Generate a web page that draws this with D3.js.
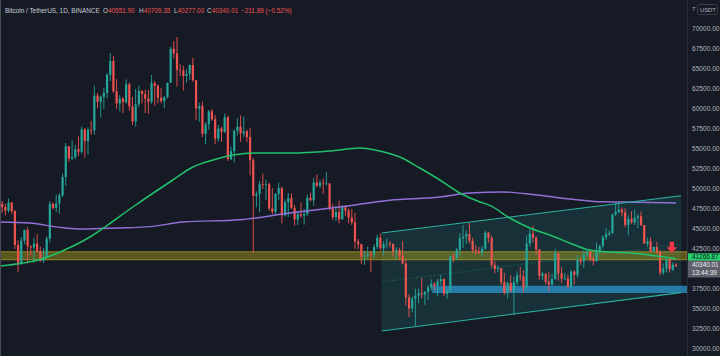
<!DOCTYPE html>
<html><head><meta charset="utf-8">
<script src="https://cdn.jsdelivr.net/npm/d3@7"></script>
<style>html,body{margin:0;padding:0;background:#161a25;overflow:hidden}svg{display:block}</style>
</head><body><svg id="c" width="720" height="356"></svg>
<script>
// Daily candles, BTC/USDT, 15 Sep 2021 -> 16 Apr 2022
const openP = [
47100,48150,47750,47300,48300,47250,43000,40700,43550,44880,42850,42700,43180,42170,41030,41520,
43790,48140,47640,48200,49200,51500,55340,53800,53970,54960,54660,57470,56000,57370,57350,61670,60880,61530,62010,64280,66000,62210,60690,61300,60850,63080,60330,58450,60590,62250,61860,
61300,60910,63220,62900,61400,60990,61500,63270,67530,66970,64880,64810,64150,64400,65500,63600,60060,60350,56900,58100,59700,58700,56300,57570,57150,58960,53730,54720,57270,57800,
56950,57200,56500,53600,49150,49400,50600,50500,50600,47550,47140,49400,50100,46700,48340,48850,47650,46200,46850,46680,46900,48900,48600,50800,50400,50800,50700,50700,47540,46470,47120,
46200,47720,47290,46430,45830,43430,43100,41550,41670,41860,41820,42740,43920,42590,43100,43180,43110,42250,42380,41660,40680,36450,35070,36280,36650,36950,36800,37160,37700,38150,37900,
38480,38740,36900,37330,41570,41380,42400,43840,44040,44370,43510,42380,42200,42050,42530,44550,43870,40520,40000,40100,38350,37000,38240,37250,38330,39210,39100,37700,
43190,44420,43920,42450,39150,39400,38420,38060,38740,41950,39450,38800,38800,37800,39670,39280,41120,40920,41760,42200,41260,41000,42360,42890,43960,44350,44500,46820,47130,47430,47060,
45510,46280,45800,46400,46580,45500,43170,43440,42250,42750,42150,39530,40070,41150,39940,40551.90];
const highP = [
48500,48500,48150,48800,48400,47350,43600,44000,44950,45200,42950,43900,44350,42800,42600,44100,
48500,48350,49300,49500,51900,55750,55300,56100,55500,56550,57800,57600,57700,58500,62900,62000,61700,62650,64480,67000,66650,63730,61750,61500,63700,63300,61500,62500,62950,62350,62400,
62400,64250,63500,63100,62600,61600,63300,67800,68500,69000,65600,65400,64950,65550,66400,63600,60800,60950,58350,59850,60000,59250,58000,57800,59400,59200,55300,57450,58850,59200,
59050,57400,57600,53900,49700,51000,51950,51200,50800,50100,49500,50800,50300,48700,49500,49450,48000,47300,48300,47500,49300,49550,51400,51800,51150,51300,52100,50700,48150,47900,48550,
47950,47990,47550,47500,47050,43750,43150,42300,42800,42250,43100,44300,44450,43450,43800,43500,43200,42700,42650,43500,41100,36850,36550,37550,37550,38900,37250,38000,38700,38350,38750,
39250,38850,37400,41700,41900,42650,44500,45500,44800,45800,43900,43000,42750,42850,44750,44600,44200,40950,40450,40150,39500,38450,39250,39000,39700,40250,39850,44200,
44950,45400,44100,42500,39650,39450,39600,39400,42550,42050,40250,39500,39300,39900,39850,41700,41450,42300,42400,42300,41550,43350,43000,44250,45100,44800,46900,48200,48100,47700,47600,
46700,47200,47450,46900,47200,45500,43900,43950,42800,43400,42400,40700,41550,41500,40850,40709.35];
const lowP = [
46700,47000,46700,47050,46900,42500,39600,40550,43100,40700,41700,40800,42100,40900,40750,41400,
43300,47430,47100,46900,49000,50400,53350,53600,53700,54100,54400,53900,54300,56800,56800,60100,58950,60000,61300,63480,62000,60000,59700,59500,60650,59800,58000,57800,60200,60700,59500,
59400,60650,60400,60700,60700,60100,61300,63250,66300,62800,64100,62300,63300,63600,63400,58600,58400,56500,55600,57400,58500,55600,55900,55900,57000,53500,53600,53300,56700,55900,
56500,55850,51700,42000,47700,47100,50000,48600,47300,46850,46750,48600,45700,46550,46500,47500,45450,45500,46400,45550,46600,48450,47900,50200,50150,49400,50450,47300,46100,46000,45700,
46200,46650,45700,45500,42500,42450,40600,40500,41200,39650,41300,42450,42300,41700,42600,42700,41550,41250,41150,40550,35450,34000,34600,32900,35700,36350,35500,36150,37300,37350,36600,
38000,36600,36250,37050,40850,41100,41650,42650,43150,43200,42000,41750,41850,41550,42430,43300,40080,39450,39650,38000,36800,36350,37050,34300,38000,38550,37000,37450,
42800,43350,41850,38650,38600,38100,37200,37900,38650,38550,38250,38650,37600,37550,38100,38900,40500,40150,41500,40900,40450,40900,41800,42550,43650,44100,44400,46650,46950,46550,45200,
44200,45650,45500,45100,45350,43120,42750,42100,42150,41850,39200,39250,39550,39550,39750,40277];
const closeP = [
48150,47750,47300,48300,47250,43000,40700,43550,44880,42850,42700,43180,42170,41030,41520,43790,
48140,47640,48200,49200,51500,55340,53800,53970,54960,54660,57470,56000,57370,57350,61670,60880,61530,62010,64280,66000,62210,60690,61300,60850,63080,60330,58450,60590,62250,61860,61300,
60910,63220,62900,61400,60990,61500,63270,67530,66970,64880,64810,64150,64400,65500,63600,60060,60350,56900,58100,59700,58700,56300,57570,57150,58960,53730,54720,57270,57800,56950,
57200,56500,53600,49150,49400,50600,50500,50600,47550,47140,49400,50100,46700,48340,48850,47650,46200,46850,46680,46900,48900,48600,50800,50400,50800,50700,50700,47540,46470,47120,46200,
47720,47290,46430,45830,43430,43100,41550,41670,41860,41820,42740,43920,42590,43100,43180,43110,42250,42380,41660,40680,36450,35070,36280,36650,36950,36800,37160,37700,38150,37900,38480,
38740,36900,37330,41570,41380,42400,43840,44040,44370,43510,42380,42200,42050,42530,44550,43870,40520,40000,40100,38350,37000,38240,37250,38330,39210,39100,37700,43190,
44420,43920,42450,39150,39400,38420,38060,38740,41950,39450,38800,38800,37800,39670,39280,41120,40920,41760,42200,41260,41000,42360,42890,43960,44350,44500,46820,47130,47430,47060,45510,
46280,45800,46400,46580,45500,43170,43440,42250,42750,42150,39530,40070,41150,39940,40550,40340.01];

// Moving averages: [bar index, price]
const maGreen = [[0,40375],[14.5,41375],[19.2,42125],[28.6,44000],[33.3,45250],[42.1,47750],[54.7,51125],[61,52750],[67.3,53625],[73.6,54250],[82.1,54500],[91.5,54500],[104,54750],[113.5,55125],[119.8,54750],[126.1,54000],[132.4,52625],[138.7,51125],[145,49500],[151.3,48375],[154.4,47950],[160.7,46375],[167,45125],[173.3,44250],[179.6,43250],[185.8,42375],[192.1,42125],[198.4,42000],[204.7,41750],[213,41267]];
const maPurple = [[0,45875],[9.7,45750],[19.2,45200],[26.4,45000],[37.1,45125],[47.5,45300],[57.9,45875],[75.8,46150],[91.5,47000],[107.2,47750],[122.9,48600],[138.7,49000],[148.1,49500],[158.5,49625],[169.2,49250],[179.6,48750],[189.9,48400],[200.6,48350],[213,48250]];

// Drawings
const channelUpper = [[120.4,44500],[214.6,49150]];
const channelLower = [[120.4,32250],[214.6,37050]];
const yellowZone = [41150,42150];
const blueZone = [37000,37900];
const blueZoneStart = 136.3;
const arrowAt = [211.7, 43400, 42000];

const yTicks = [70000,67500,65000,62500,60000,57500,55000,52500,50000,47500,45000,42500,40000,37500,35000,32500,30000];
const symbolTitle = "Bitcoin / TetherUS, 1D, BINANCE";
const ohlcLabels = [["O","40551.90"],["H","40709.35"],["L","40277.00"],["C","40340.01"]];
const changeText = "\u2212211.89 (\u22120.52%)";
const maValue = 41266.87, lastValue = 40340.01;
const maLabel = "41266.87";
const lastLabel = "40340.01";
const countdown = "13:44:39";

const svg = d3.select("#c");
const W = 720, H = 356, plotR = 687;
const FONT = "'Liberation Sans', Arial, sans-serif";

svg.append("rect").attr("width",W).attr("height",H).attr("fill","#161a25");

const x = d3.scaleLinear().domain([0,213]).range([-1,676]);
const y = d3.scaleLinear().domain([30000,70000]).range([349,29]);

svg.append("clipPath").attr("id","plot").append("rect").attr("x",0).attr("y",0).attr("width",plotR).attr("height",H);
const g = svg.append("g").attr("clip-path","url(#plot)");

// Channel fill
const chPoly = [channelUpper[0],channelUpper[1],channelLower[1],channelLower[0]];
g.append("path").attr("d", "M"+chPoly.map(p=>[x(p[0]),y(p[1])].join(",")).join("L")+"Z")
  .attr("fill","rgba(38,166,154,0.17)");

// Yellow zone
g.append("rect").attr("x",0).attr("width",plotR).attr("y",y(yellowZone[1])).attr("height",y(yellowZone[0])-y(yellowZone[1]))
  .attr("fill","rgba(185,172,24,0.42)").attr("stroke","rgba(205,190,40,0.7)").attr("stroke-width",0.8);
// Blue zone
g.append("rect").attr("x",x(blueZoneStart)).attr("width",plotR-x(blueZoneStart)).attr("y",y(blueZone[1])).attr("height",y(blueZone[0])-y(blueZone[1]))
  .attr("fill","rgba(44,150,205,0.75)");

// Candles
const idx = d3.range(openP.length);
const up = "#26a69a", dn = "#ef5350";
const cg = g.append("g");
cg.selectAll("line").data(idx).join("line")
  .attr("x1",i=>x(i)).attr("x2",i=>x(i)).attr("y1",i=>y(highP[i])).attr("y2",i=>y(lowP[i]))
  .attr("stroke",i=>closeP[i]>=openP[i]?up:dn).attr("stroke-width",0.9);
cg.selectAll("rect").data(idx).join("rect")
  .attr("x",i=>x(i)-1.1).attr("width",2.2)
  .attr("y",i=>y(Math.max(openP[i],closeP[i])))
  .attr("height",i=>Math.max(0.8,Math.abs(y(openP[i])-y(closeP[i]))))
  .attr("fill",i=>closeP[i]>=openP[i]?up:dn);

// MAs
const line = d3.line().x(d=>x(d[0])).y(d=>y(d[1])).curve(d3.curveMonotoneX);
g.append("path").attr("d",line(maPurple)).attr("fill","none").attr("stroke","#9170d6").attr("stroke-width",1.4);
g.append("path").attr("d",line(maGreen)).attr("fill","none").attr("stroke","#22c06a").attr("stroke-width",1.5);

// Channel lines
[channelUpper, channelLower].forEach(l=>{
  g.append("line").attr("x1",x(l[0][0])).attr("y1",y(l[0][1])).attr("x2",x(l[1][0])).attr("y2",y(l[1][1]))
   .attr("stroke","#2bb3a3").attr("stroke-width",1.1);
});
g.append("line").attr("x1",x(channelUpper[0][0])).attr("y1",y((channelUpper[0][1]+channelLower[0][1])/2))
  .attr("x2",x(channelUpper[1][0])).attr("y2",y((channelUpper[1][1]+channelLower[1][1])/2))
  .attr("stroke","rgba(43,179,163,0.45)").attr("stroke-width",0.8).attr("stroke-dasharray","1.5,2");

// Red arrow
{
  const cx = x(arrowAt[0]), yt = y(arrowAt[1]), yb = y(arrowAt[2]);
  const mid = yt + (yb-yt)*0.48;
  const p = [[cx-2.2,yt],[cx+2.2,yt],[cx+2.2,mid],[cx+5.3,mid],[cx,yb],[cx-5.3,mid],[cx-2.2,mid]];
  g.append("path").attr("d","M"+p.map(q=>q.join(",")).join("L")+"Z").attr("fill","#f23645");
}

// Left border
svg.append("line").attr("x1",0.5).attr("x2",0.5).attr("y1",0).attr("y2",H).attr("stroke","#4a4e5a").attr("stroke-width",1);
// Axis divider
svg.append("line").attr("x1",plotR+0.5).attr("x2",plotR+0.5).attr("y1",0).attr("y2",H).attr("stroke","#2a2e39");

// Price label boxes (positions from scale)
const maBoxTop = y(maValue)-5.5, maBoxH = 7.6;
const lastBoxTop = y(lastValue)-5.8, lastBoxH = 17;

// Y axis labels — ticks hidden behind the price boxes are skipped, as in the reference
const visibleTicks = yTicks.filter(d => {
  const ty = y(d);
  return !(ty+3.5 > maBoxTop && ty-3.5 < lastBoxTop+lastBoxH);
});
const ax = svg.append("g");
ax.selectAll("text").data(visibleTicks).join("text")
  .attr("x",692).attr("y",d=>y(d)).attr("dy","0.35em")
  .attr("font-family",FONT).attr("font-size",6.6).attr("fill","#b2b5be")
  .text(d=>d3.format(".2f")(d));

svg.append("rect").attr("x",688).attr("y",maBoxTop).attr("width",32).attr("height",maBoxH).attr("fill","#27d16c");
svg.append("text").attr("x",692).attr("y",maBoxTop+maBoxH/2).attr("dy","0.35em").attr("font-family",FONT).attr("font-size",6.4).attr("fill","#10131b").text(maLabel);
svg.append("rect").attr("x",688).attr("y",lastBoxTop).attr("width",32).attr("height",lastBoxH).attr("fill","#5d606b");
svg.append("text").attr("x",692).attr("y",lastBoxTop+4.6).attr("dy","0.35em").attr("font-family",FONT).attr("font-size",6.4).attr("fill","#eceef2").text(lastLabel);
svg.append("text").attr("x",692).attr("y",lastBoxTop+12.4).attr("dy","0.35em").attr("font-family",FONT).attr("font-size",6.4).attr("fill","#eceef2").text(countdown);

// Top-right currency
svg.append("text").attr("x",692).attr("y",10.5).attr("font-family",FONT).attr("font-size",6).attr("fill","#b2b5be").text("7");
svg.append("rect").attr("x",697.5).attr("y",4.5).attr("width",20).attr("height",10).attr("rx",2).attr("fill","#161a25").attr("stroke","#434651").attr("stroke-width",0.8);
svg.append("text").attr("x",700).attr("y",11.8).attr("font-family",FONT).attr("font-size",5.8).attr("fill","#b2b5be").text("USDT");

// Header
const hdr = svg.append("text").attr("x",5).attr("y",13).attr("font-family",FONT).attr("font-size",6.4).attr("fill","#c9ccd6");
hdr.append("tspan").text(symbolTitle);
const ox = [103,139,174,207];
ohlcLabels.forEach((p,k)=>{
  svg.append("text").attr("x",ox[k]).attr("y",13).attr("font-family",FONT).attr("font-size",6.4)
    .call(t=>{t.append("tspan").attr("fill","#c9ccd6").text(p[0]); t.append("tspan").attr("fill","#ef5350").text(p[1]);});
});
svg.append("text").attr("x",241).attr("y",13).attr("font-family",FONT).attr("font-size",6.4).attr("fill","#ef5350").text(changeText);
</script></body></html>
